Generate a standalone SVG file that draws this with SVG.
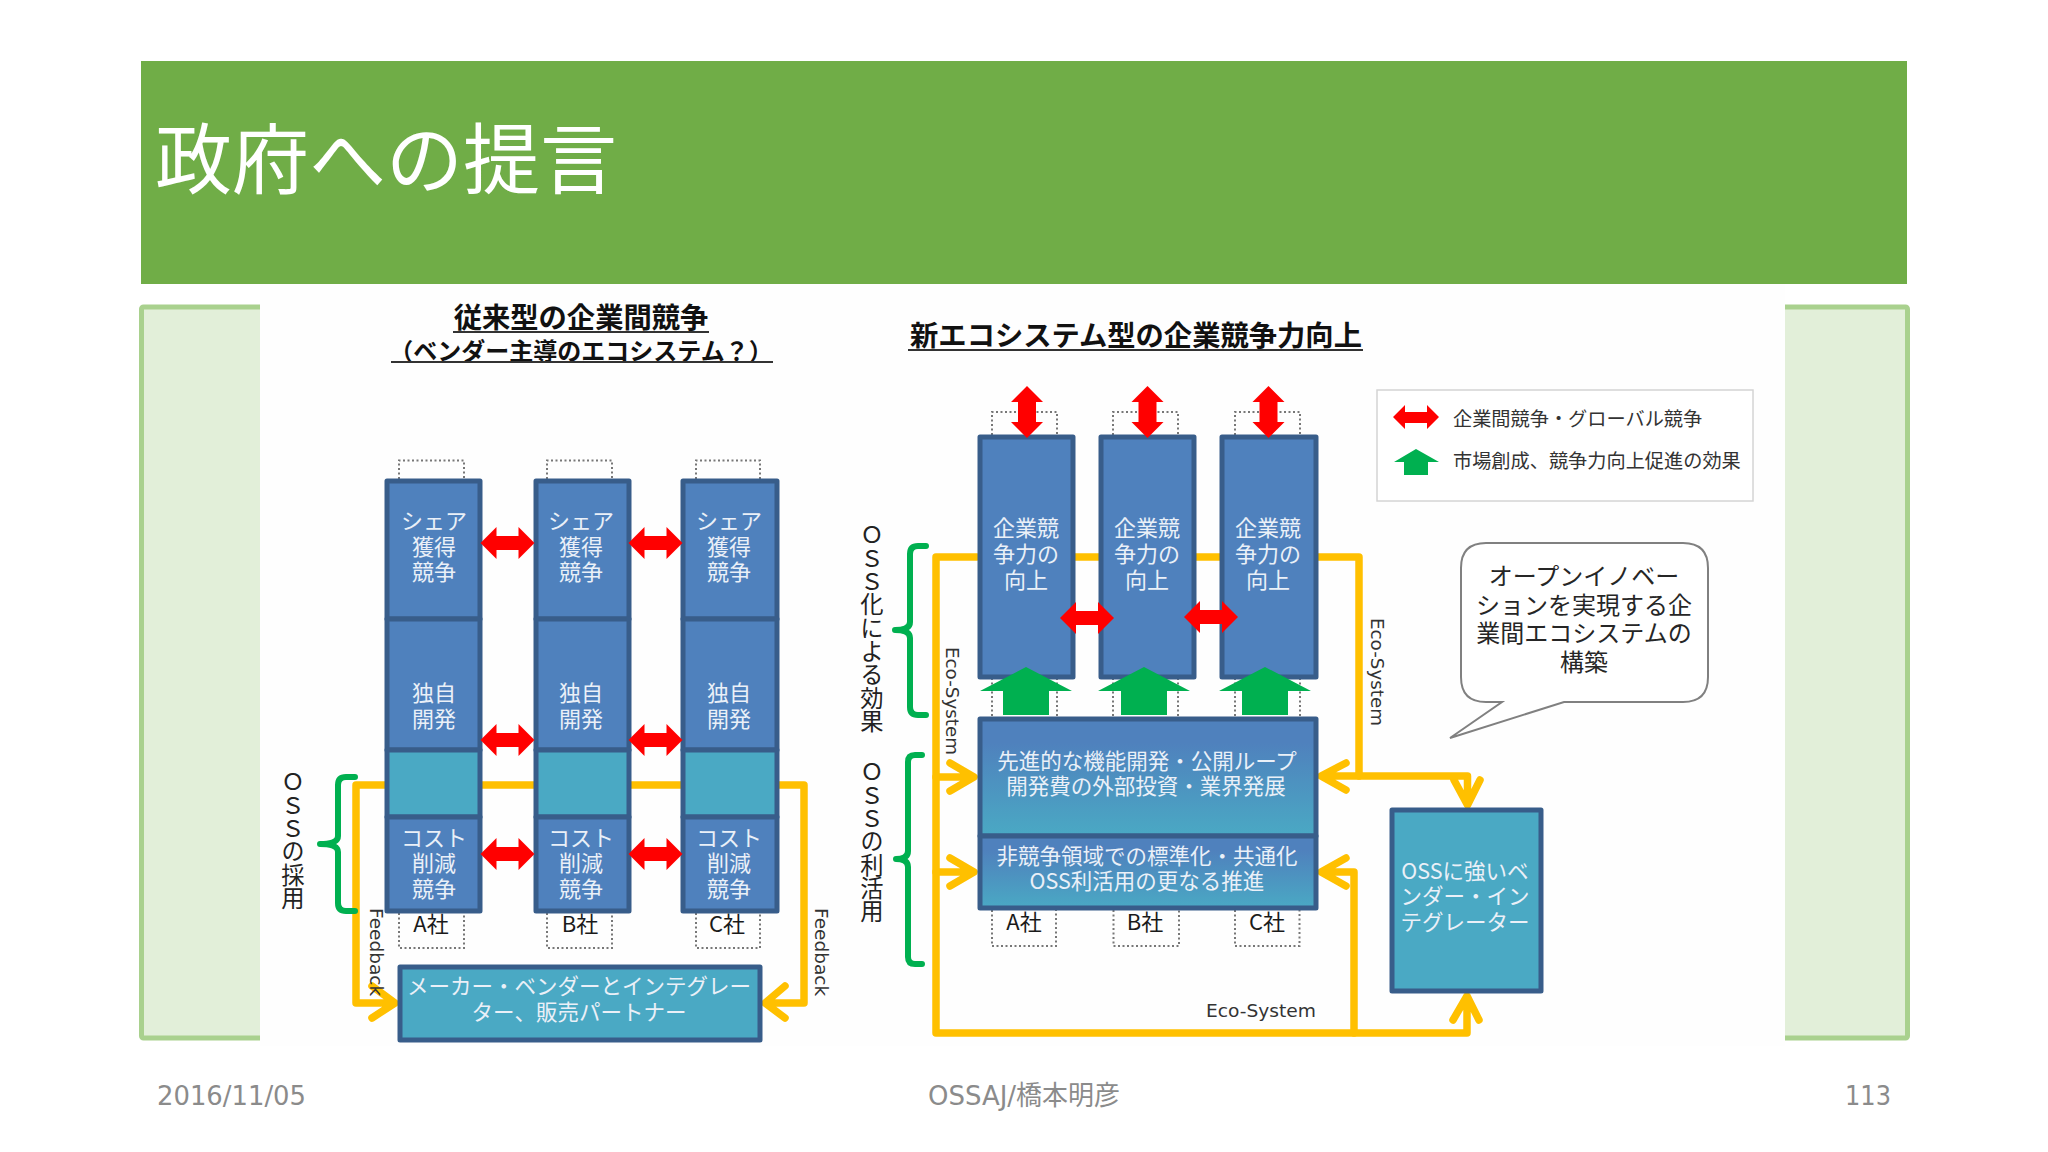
<svg xmlns="http://www.w3.org/2000/svg" width="2048" height="1152" viewBox="0 0 2048 1152">
<style>
text{font-family:"Noto Sans CJK JP","Noto Sans",sans-serif}
.box{stroke:#385d8a;stroke-width:5;stroke-linejoin:round}
.blue{fill:#4f81bd}
.teal{fill:#4aa9c4}
.w{fill:#eaf0f8;font-size:22px;text-anchor:middle}
.k{fill:#1a1a1a;font-size:22px;text-anchor:middle}
.hd{fill:#111;font-weight:700;font-size:28.3px;text-anchor:middle}
.y{fill:none;stroke:#ffc000;stroke-width:7.5;stroke-linejoin:round;stroke-linecap:round}
.g{fill:none;stroke:#00b050;stroke-width:6;stroke-linejoin:round;stroke-linecap:round}
.dot{fill:none;stroke:#777;stroke-width:2;stroke-dasharray:2 2.5}
.lat{font-family:"DejaVu Sans",sans-serif;font-size:18.5px;fill:#333}
.vt{writing-mode:vertical-rl;text-orientation:upright;font-size:23.3px;fill:#222}
.ft{font-family:"DejaVu Sans","Noto Sans CJK JP",sans-serif;font-size:27px;fill:#8b8b8b}
.red{fill:#ff0000}
.grn{fill:#00b050}
</style>
<defs>
<linearGradient id="gr" x1="0" y1="0" x2="0" y2="1"><stop offset="0.2" stop-color="#4f81bd"/><stop offset="1" stop-color="#4aa9c4"/></linearGradient>
<polygon id="rh" points="-27,0 -11,-16 -11,-7 11,-7 11,-16 27,0 11,16 11,7 -11,7 -11,16"/>
<polygon id="rv" points="0,-26 16,-10 9,-10 9,10 16,10 0,26 -16,10 -9,10 -9,-10 -16,-10"/>
<polygon id="gu" points="0,-24 46,0 23,0 23,24 -23,24 -23,0 -46,0"/>
</defs>
<rect width="2048" height="1152" fill="#fff"/>
<g id="header"><rect x="141" y="61" width="1766" height="223" fill="#70ad47"/>
<text x="155" y="188" font-size="77" fill="#fff">政府への提言</text></g>
<g id="panel"><rect x="141.500" y="307" width="1766" height="731" rx="2" fill="#e2efd9" stroke="#a9d18e" stroke-width="5"/>
<rect x="260" y="284" width="1525" height="762" fill="#fefefe"/></g>

<g id="connectors">
<path class="y" d="M385,785H356V1003H392M372,986L395,1003L372,1018"/>
<path class="y" d="M482,785H534M630,785H681M779,785H804V1003H768M785,986L765,1003L785,1018"/>
<path class="y" d="M977,557H936V1033H1467V998M1453,1020L1467,996L1479,1020"/>
<path class="y" d="M936,777H972M950,763L974,777L950,791"/>
<path class="y" d="M936,872H972M950,858L974,872L950,886"/>
<path class="y" d="M1075,557H1099M1196,557H1220M1318,557H1359V776"/>
<path class="y" d="M1322,776H1467.500V803M1346,763L1321,776L1346,790M1454,780L1467.500,805L1480,780"/>
<path class="y" d="M1354,1033V872H1324M1346,858L1321,872L1346,886"/>
</g>

<g id="dotted">
<path class="dot" d="M399,479V460.500H464V479M547,479V460.500H612V479M696,479V460.500H760V479"/>
<path class="dot" d="M399,913V948H464V913M547,913V948H612V913M696,913V948H760V913"/>
<path class="dot" d="M992,435V412H1057V435M1113,435V412H1178V435M1235,435V412H1300V435"/>
<path class="dot" d="M992,678V717M1057,678V717M1113,678V717M1178,678V717M1235,678V717M1300,678V717"/>
<path class="dot" d="M992,910V946H1056V910M1113.500,910V946H1179V910M1235,910V946H1299.500V910"/>
</g>

<g id="titles">
<text class="hd" x="581" y="328">従来型の企業間競争</text><rect x="453" y="331" width="256" height="2" fill="#333"/>
<text class="hd" x="581" y="360" style="font-size:24px">（ベンダー主導のエコシステム？）</text><rect x="391" y="361" width="382" height="2" fill="#333"/>
<text class="hd" x="1136" y="346">新エコシステム型の企業競争力向上</text><rect x="908" y="349" width="455" height="2" fill="#333"/>
</g>

<g id="colA">
<rect class="box blue" x="387" y="481" width="93" height="138"/><rect class="box blue" x="387" y="619" width="93" height="131"/><rect class="box teal" x="387" y="750" width="93" height="67"/><rect class="box blue" x="387" y="817" width="93" height="94"/>
<text class="w"><tspan x="434" y="529">シェア</tspan><tspan x="434" y="555">獲得</tspan><tspan x="434" y="580">競争</tspan><tspan x="434" y="701">独自</tspan><tspan x="434" y="727">開発</tspan><tspan x="434" y="846">コスト</tspan><tspan x="434" y="871">削減</tspan><tspan x="434" y="897">競争</tspan></text>
<text class="k" x="431" y="932">A社</text></g>
<g id="colB">
<rect class="box blue" x="536" y="481" width="93" height="138"/><rect class="box blue" x="536" y="619" width="93" height="131"/><rect class="box teal" x="536" y="750" width="93" height="67"/><rect class="box blue" x="536" y="817" width="93" height="94"/>
<text class="w"><tspan x="581" y="529">シェア</tspan><tspan x="581" y="555">獲得</tspan><tspan x="581" y="580">競争</tspan><tspan x="581" y="701">独自</tspan><tspan x="581" y="727">開発</tspan><tspan x="581" y="846">コスト</tspan><tspan x="581" y="871">削減</tspan><tspan x="581" y="897">競争</tspan></text>
<text class="k" x="580" y="932">B社</text></g>
<g id="colC">
<rect class="box blue" x="683" y="481" width="94" height="138"/><rect class="box blue" x="683" y="619" width="94" height="131"/><rect class="box teal" x="683" y="750" width="94" height="67"/><rect class="box blue" x="683" y="817" width="94" height="94"/>
<text class="w"><tspan x="729" y="529">シェア</tspan><tspan x="729" y="555">獲得</tspan><tspan x="729" y="580">競争</tspan><tspan x="729" y="701">独自</tspan><tspan x="729" y="727">開発</tspan><tspan x="729" y="846">コスト</tspan><tspan x="729" y="871">削減</tspan><tspan x="729" y="897">競争</tspan></text>
<text class="k" x="727" y="932">C社</text></g>
<g id="maker"><rect class="box teal" x="400" y="967" width="360" height="73"/>
<text class="w" style="font-size:21.500px"><tspan x="579" y="994">メーカー・ベンダーとインテグレー</tspan><tspan x="579" y="1020">ター、販売パートナー</tspan></text></g>

<g id="oss-adopt"><path class="g" d="M355,777H346Q338,777 338,785V836Q338,844 320,844Q338,844 338,852V903Q338,911 346,911H355"/>
<text class="vt" x="293" y="770">ＯＳＳの採用</text></g>
<text class="lat" transform="translate(370,908) rotate(90)">Feedback</text>
<text class="lat" transform="translate(815,908) rotate(90)">Feedback</text>

<g id="ent1"><rect class="box blue" x="980" y="437" width="93" height="240"/><text class="w"><tspan x="1026" y="536">企業競</tspan><tspan x="1026" y="562">争力の</tspan><tspan x="1026" y="588">向上</tspan></text></g>
<g id="ent2"><rect class="box blue" x="1101" y="437" width="93" height="240"/><text class="w"><tspan x="1147" y="536">企業競</tspan><tspan x="1147" y="562">争力の</tspan><tspan x="1147" y="588">向上</tspan></text></g>
<g id="ent3"><rect class="box blue" x="1222" y="437" width="94" height="240"/><text class="w"><tspan x="1268" y="536">企業競</tspan><tspan x="1268" y="562">争力の</tspan><tspan x="1268" y="588">向上</tspan></text></g>
<g id="base"><rect class="box" fill="url(#gr)" x="980" y="719" width="336" height="117"/>
<rect class="box" fill="url(#gr)" x="980" y="836" width="336" height="72"/>
<text class="w" style="font-size:21.500px"><tspan x="1147" y="769">先進的な機能開発・公開ループ</tspan><tspan x="1146" y="794">開発費の外部投資・業界発展</tspan><tspan x="1147" y="864">非競争領域での標準化・共通化</tspan><tspan x="1147" y="889">OSS利活用の更なる推進</tspan></text>
<text class="k" x="1024" y="930">A社</text><text class="k" x="1145" y="930">B社</text><text class="k" x="1267" y="930">C社</text></g>
<g id="vendor"><rect class="box teal" x="1392" y="810" width="149" height="181"/>
<text class="w" style="font-size:21.500px"><tspan x="1465" y="879">OSSに強いベ</tspan><tspan x="1465" y="904">ンダー・イン</tspan><tspan x="1465" y="930">テグレーター</tspan></text></g>

<g id="competition-arrows">
<use href="#rh" class="red" x="507.500" y="543"/><use href="#rh" class="red" x="655.500" y="543"/>
<use href="#rh" class="red" x="507.500" y="740"/><use href="#rh" class="red" x="655.500" y="740"/>
<use href="#rh" class="red" x="507.500" y="854"/><use href="#rh" class="red" x="655.500" y="854"/>
<use href="#rv" class="red" x="1027" y="412"/><use href="#rv" class="red" x="1147.500" y="412"/><use href="#rv" class="red" x="1268.500" y="412"/>
<use href="#rh" class="red" x="1087" y="618"/><use href="#rh" class="red" x="1211" y="617"/>
<use href="#gu" class="grn" x="1026" y="691"/><use href="#gu" class="grn" x="1144" y="691"/><use href="#gu" class="grn" x="1265" y="691"/>
</g>

<g id="oss-effect"><path class="g" d="M926,546H918Q910,546 910,554V622Q910,630 895,630Q910,630 910,638V707Q910,715 918,715H926"/>
<text class="vt" x="872" y="523">ＯＳＳ化による効果</text></g>
<g id="oss-use"><path class="g" d="M922,755H915Q908,755 908,762V851Q908,859 896,859Q908,859 908,867V957Q908,964 915,964H922"/>
<text class="vt" x="872" y="760">ＯＳＳの利活用</text></g>
<text class="lat" transform="translate(946,647) rotate(90)" textLength="108" lengthAdjust="spacingAndGlyphs">Eco-System</text>
<text class="lat" transform="translate(1371,618) rotate(90)" textLength="108" lengthAdjust="spacingAndGlyphs">Eco-System</text>
<text class="lat" x="1206" y="1017" textLength="110" lengthAdjust="spacingAndGlyphs">Eco-System</text>

<g id="legend"><rect x="1377" y="390" width="376" height="111" fill="#fff" stroke="#d4d4d4" stroke-width="1.500"/>
<polygon class="red" points="1393,417 1405,405 1405,412 1427,412 1427,405 1439,417 1427,429 1427,423 1405,423 1405,429"/>
<polygon class="grn" points="1416,449 1439,462 1428,462 1428,475 1404,475 1404,462 1394,462"/>
<text x="1453" y="426" font-size="19.200" fill="#333">企業間競争・グローバル競争</text>
<text x="1453" y="468" font-size="19.200" fill="#333">市場創成、競争力向上促進の効果</text></g>
<g id="callout"><path d="M1486,543H1683Q1708,543 1708,568V677Q1708,702 1683,702H1564L1450,738L1502,702H1486Q1461,702 1461,677V568Q1461,543 1486,543Z" fill="#fff" stroke="#808080" stroke-width="2"/>
<text font-size="24" fill="#262626" text-anchor="middle"><tspan x="1584" y="585">オープンイノベー</tspan><tspan x="1584" y="614">ションを実現する企</tspan><tspan x="1584" y="642">業間エコシステムの</tspan><tspan x="1584" y="671">構築</tspan></text></g>

<g id="footer">
<text class="ft" x="157" y="1105" textLength="149" lengthAdjust="spacingAndGlyphs">2016/11/05</text>
<text class="ft" x="928" y="1105" textLength="192" lengthAdjust="spacingAndGlyphs">OSSAJ/橋本明彦</text>
<text class="ft" x="1845" y="1105" textLength="46" lengthAdjust="spacingAndGlyphs">113</text></g>
</svg>
